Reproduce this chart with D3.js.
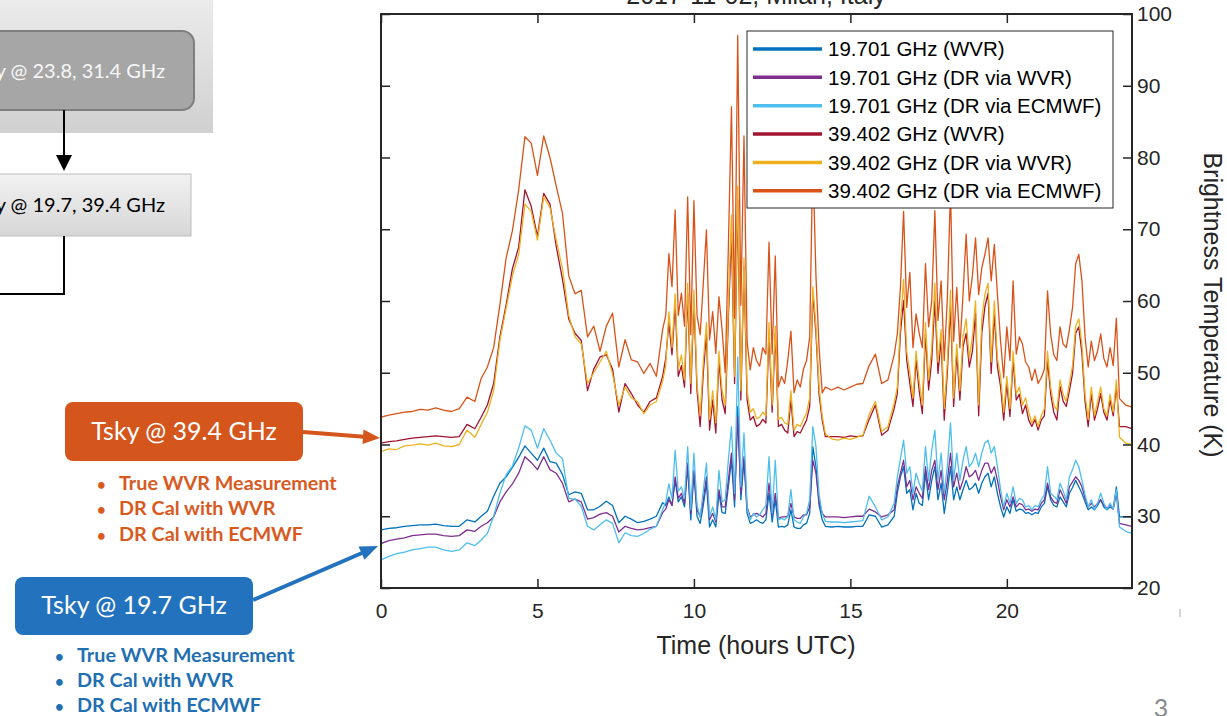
<!DOCTYPE html>
<html>
<head>
<meta charset="utf-8">
<title>Tsky 2017-11-02 Milan</title>
<script src="https://d3js.org/d3.v7.min.js"></script>
<style>
  body { margin: 0; background: #fff; overflow: hidden; }
  svg { display: block; }
</style>
</head>
<body>
<svg id="slide" width="1227" height="716"></svg>
<script>
// time axis, hours UTC (sampled closer where the traces get spiky)
const hours = [
  0,0.25,0.5,0.75,1,1.25,1.5,1.75,2,2.25,2.5,2.75,3,
  3.2,3.4,3.6,3.8,4,4.2,4.4,4.6,4.8,5,5.2,5.4,5.6,5.8,6,6.2,6.4,6.6,6.8,7,7.2,7.4,7.6,7.8,8,8.2,8.4,8.6,8.8,9,
  9.1,9.2,9.3,9.4,9.5,9.6,9.7,9.8,9.9,
  10,10.1,10.2,10.3,10.4,10.5,10.6,10.7,10.8,10.9,
  11,11.1,11.2,11.3,11.4,11.5,11.6,11.7,11.8,11.9,
  12,12.1,12.2,12.3,12.4,12.5,12.6,12.7,12.8,12.9,
  13,13.1,13.2,13.3,13.4,13.5,13.6,13.7,13.8,13.9,
  14,14.1,14.2,
  14.4,14.6,14.8,15,15.2,15.4,15.6,15.8,16,16.2,16.4,
  16.5,16.6,16.7,16.8,16.9,
  17,17.1,17.2,17.3,17.4,17.5,17.6,17.7,17.8,17.9,
  18,18.1,18.2,18.3,18.4,18.5,18.6,18.7,18.8,18.9,
  19,19.1,19.2,19.3,19.4,19.5,19.6,19.7,19.8,19.9,
  20,20.1,20.2,20.3,20.4,20.5,20.6,20.7,20.8,20.9,
  21,21.1,21.2,21.3,21.4,21.5,21.6,21.7,21.8,21.9,
  22,22.1,22.2,22.3,22.4,22.5,22.6,22.7,22.8,22.9,
  23,23.1,23.2,23.3,23.4,23.5,23.6,
  23.8,24
];

// brightness temperature (K), 19.701 GHz measured by the WVR
const tb19Wvr = [
  28.1,28.3,28.4,28.6,28.7,28.8,28.8,28.9,28.7,28.6,28.6,29.5,29.2,
  30.0,30.7,32.8,34.6,35.5,36.8,38.2,39.8,38.8,37.8,39.5,37.6,37.4,35.8,33.0,33.4,33.2,30.9,30.9,31.4,32.1,31.5,29.1,30.0,29.6,29.1,29.3,29.6,30.0,31.9,
  31.5,32.7,31.5,35.0,32.0,32.7,31.3,36.9,29.5,
  36.0,30.0,29.0,31.5,34.6,28.5,29.5,28.5,33.2,30.5,
  30.4,34.1,37.8,31.3,45.3,32.3,37.8,30.4,29.0,29.2,
  29.5,29.2,29.0,29.5,33.2,29.2,32.3,28.5,28.6,28.5,
  28.8,30.9,28.5,28.3,28.3,28.8,29.0,30.4,39.7,36.9,
  31.5,29.5,28.6,
  28.5,28.6,28.5,28.5,28.6,28.6,30.2,30.0,28.5,28.8,30.0,
  33.2,35.5,36.9,33.2,33.7,
  30.9,33.2,31.8,31.5,36.0,32.3,35.0,36.9,32.3,34.6,
  30.4,33.5,36.9,32.3,34.1,32.3,33.7,35.0,33.7,34.0,
  34.6,33.2,34.6,35.5,36.0,34.1,35.5,33.2,31.3,29.9,
  31.3,30.4,32.3,30.7,31.0,30.9,30.4,30.5,30.2,30.5,
  30.4,31.3,31.8,34.1,32.3,31.5,31.3,32.7,32.0,31.3,
  33.2,34.0,35.0,34.1,33.2,32.0,30.9,31.3,30.9,31.5,
  32.3,31.3,30.9,31.3,31.0,34.1,29.9,
  29.9,29.9
];

// 19.701 GHz, DR calibration driven by the WVR
const tb19DrWvr = [
  26.2,26.6,26.8,27.0,27.3,27.4,27.5,27.5,27.3,27.2,27.3,28.1,27.9,
  28.6,29.1,29.9,32.0,33.4,34.5,36.0,38.3,37.5,36.5,38.3,36.5,36.0,34.6,32.0,32.4,32.0,29.6,29.8,30.3,30.5,30.0,27.8,28.6,28.3,28.1,28.2,28.4,28.6,30.5,
  31.0,32.3,31.5,35.5,32.5,33.2,31.8,37.4,30.4,
  36.4,30.9,29.9,32.3,35.5,29.5,30.4,29.2,33.7,31.3,
  31.3,35.0,38.8,32.3,43.9,33.2,38.3,31.3,29.9,30.2,
  30.4,30.2,29.9,30.4,34.6,30.2,33.2,29.7,29.9,29.9,
  30.0,31.8,29.9,29.7,29.7,30.2,30.2,31.3,37.8,36.0,
  32.0,30.4,29.9,
  29.9,29.9,29.8,29.9,30.0,30.0,31.0,30.6,29.9,30.2,30.9,
  34.1,36.0,37.8,34.1,35.0,
  32.3,34.1,33.2,32.5,36.9,33.7,36.4,37.8,33.7,36.4,
  32.3,35.0,38.8,34.1,36.0,33.7,35.0,36.9,35.5,35.8,
  36.4,35.0,36.4,37.4,37.4,36.0,36.9,35.0,32.7,30.9,
  32.3,31.3,32.7,31.3,31.8,31.6,30.9,31.0,30.7,31.0,
  30.9,31.8,32.3,34.6,32.7,32.0,31.8,33.7,32.8,31.8,
  34.1,34.8,35.5,35.0,34.1,32.5,31.3,31.8,31.3,31.8,
  32.3,31.6,31.1,31.6,31.0,33.2,29.0,
  28.8,28.6
];

// 19.701 GHz, DR calibration driven by ECMWF
const tb19DrEcmwf = [
  23.9,24.4,24.8,25.0,25.3,25.5,25.7,25.7,25.3,25.1,25.3,26.3,25.9,
  26.7,27.6,30.0,33.2,35.8,37.0,39.5,42.6,42.0,39.5,42.2,40.6,38.8,38.0,32.5,32.4,31.4,28.6,28.1,28.8,29.5,29.0,26.3,27.7,27.3,27.2,27.6,28.2,28.6,30.9,
  32.0,34.5,32.5,39.2,33.5,34.1,32.5,39.7,30.9,
  38.8,31.5,29.9,33.5,37.4,29.9,31.3,29.5,36.4,32.0,
  32.3,37.8,42.5,33.2,52.2,34.1,41.6,31.3,29.5,30.4,
  29.9,30.2,30.9,31.5,38.3,30.4,37.8,29.5,29.7,29.5,
  30.0,33.7,29.5,29.2,29.0,29.9,30.4,32.3,42.5,39.7,
  33.0,30.4,29.3,
  29.2,29.2,29.1,29.2,29.3,29.4,32.8,31.3,29.5,29.9,31.8,
  35.5,38.0,40.6,36.0,36.9,
  33.2,36.0,34.6,33.5,39.7,35.0,39.2,42.0,35.0,38.8,
  33.2,37.0,43.0,35.0,38.8,35.0,37.8,39.7,36.9,37.5,
  38.8,36.9,38.8,40.2,40.6,38.8,39.7,36.9,33.7,31.3,
  33.2,31.8,34.1,31.8,32.5,32.3,31.3,31.5,30.9,31.5,
  31.3,32.3,33.0,36.9,33.2,32.8,32.3,34.6,33.5,32.3,
  35.5,36.5,37.8,36.9,35.0,33.0,31.3,32.3,30.9,31.8,
  33.2,31.8,30.9,31.8,31.0,33.7,28.5,
  27.9,27.6
];

// 39.402 GHz measured by the WVR
const tb39Wvr = [
  40.2,40.4,40.5,40.7,40.9,41.0,41.1,41.2,41.1,41.0,41.1,42.8,42.2,
  43.8,45.5,48.5,55.0,59.5,64.5,67.5,75.5,73.2,69.0,75.0,73.5,67.6,63.0,57.5,55.5,54.5,47.5,50.5,52.2,52.5,50.5,44.5,48.5,47.1,45.5,44.5,46.0,46.5,49.5,
  52.0,57.0,52.5,59.5,49.5,51.0,48.0,61.1,47.1,
  60.1,47.5,42.5,50.0,55.5,42.0,46.2,41.6,51.8,46.2,
  44.3,57.5,69.4,48.5,74.1,46.2,64.8,46.2,43.4,43.9,
  42.5,42.8,43.5,43.0,55.5,44.5,55.5,42.5,42.8,42.0,
  41.6,46.2,41.1,41.8,41.6,42.5,43.4,45.3,61.1,55.5,
  47.0,43.4,41.1,
  41.1,41.1,41.0,41.2,41.1,41.2,43.5,45.5,41.3,42.0,45.0,
  47.1,55.5,60.1,51.8,48.5,
  45.3,51.8,47.5,44.3,55.5,47.6,51.8,60.1,49.9,54.6,
  43.4,50.2,59.2,45.3,52.7,46.2,53.6,55.5,50.8,53.0,
  58.3,44.0,55.5,59.2,61.1,49.9,58.3,50.8,48.1,43.4,
  48.5,43.9,51.8,46.2,47.0,44.3,45.5,43.4,42.5,43.5,
  42.0,43.4,44.0,51.8,47.1,44.5,43.4,48.1,46.0,45.3,
  47.5,49.9,55.5,56.4,52.7,46.0,42.5,47.1,43.4,45.0,
  47.1,44.5,43.4,46.2,44.0,48.1,42.5,
  42.5,42.2
];

// 39.402 GHz, DR calibration driven by the WVR
const tb39DrWvr = [
  39.0,39.4,39.3,39.8,39.9,40.1,39.9,40.2,39.8,39.7,40.0,42.0,41.0,
  42.8,44.5,47.5,54.5,59.0,63.5,66.5,73.5,72.5,68.5,74.5,73.0,68.5,64.5,58.0,55.0,54.0,48.5,50.0,51.5,53.0,49.8,45.5,48.0,46.5,46.0,44.3,45.5,46.0,48.8,
  51.0,58.5,53.5,61.0,50.5,52.5,49.0,62.5,48.5,
  61.5,48.5,44.0,51.5,57.0,43.5,47.5,43.0,53.0,47.5,
  45.5,59.0,72.0,49.5,76.0,47.5,66.0,47.5,44.5,45.0,
  43.6,43.8,44.5,44.0,57.0,45.5,56.5,43.5,43.8,43.0,
  42.8,47.5,42.0,42.8,42.5,43.5,44.4,46.5,62.0,56.5,
  48.0,44.0,41.5,
  40.8,40.6,40.9,40.7,41.0,41.3,44.2,46.0,41.8,42.5,45.8,
  48.0,57.0,63.0,53.0,50.0,
  46.5,53.0,48.8,45.5,57.0,49.0,53.5,62.5,51.5,56.0,
  45.0,51.5,61.5,46.5,54.0,47.5,55.0,57.5,52.0,55.0,
  60.0,45.5,57.5,61.0,62.5,51.5,60.0,52.0,49.5,44.5,
  49.5,45.0,53.0,47.0,48.0,45.5,46.5,44.5,43.0,44.0,
  42.5,44.0,45.0,53.0,48.0,45.5,44.8,49.0,47.0,46.0,
  48.5,51.0,56.5,57.5,54.0,47.0,43.5,48.0,44.0,46.0,
  48.0,45.0,44.0,47.0,44.5,49.0,41.0,
  40.2,40.0
];

// 39.402 GHz, DR calibration driven by ECMWF
const tb39DrEcmwf = [
  43.8,44.1,44.3,44.5,44.6,44.9,44.8,45.1,44.8,44.6,45.0,46.6,46.0,
  49.2,50.8,53.5,59.5,66.0,69.8,75.5,82.9,82.0,77.5,83.0,80.0,76.0,72.2,63.5,61.0,61.5,55.0,56.5,53.0,56.5,58.3,50.8,54.6,51.8,51.5,49.9,51.3,49.5,56.0,
  58.0,66.6,62.0,72.7,58.0,61.1,56.5,74.5,55.3,
  74.0,58.0,55.3,62.5,69.9,54.6,58.5,52.7,60.6,56.0,
  50.0,67.3,87.1,57.6,97.0,59.4,83.0,54.3,50.4,53.5,
  51.7,50.9,53.5,52.6,68.2,52.6,66.3,48.0,49.5,48.5,
  51.7,55.8,47.2,49.0,48.0,50.5,51.7,55.0,80.0,63.5,
  53.5,47.2,48.0,
  47.6,48.0,47.6,48.0,48.4,48.5,51.0,52.6,48.5,49.0,52.5,
  55.4,61.9,72.5,59.1,64.0,
  53.5,58.2,55.5,53.5,65.2,56.4,60.0,72.6,57.3,62.8,
  51.7,60.5,75.5,54.4,61.9,53.5,60.9,69.3,60.0,63.5,
  68.8,60.9,64.6,66.5,68.8,62.8,67.9,60.9,54.4,49.3,
  56.4,51.7,62.8,52.6,55.0,54.0,51.5,50.8,48.9,50.5,
  48.5,49.3,50.5,61.4,55.4,52.5,51.7,56.4,54.0,53.5,
  56.0,59.1,65.2,66.5,62.8,55.0,50.8,54.4,51.7,53.0,
  55.4,52.0,50.8,53.5,51.0,57.6,46.4,
  45.5,45.2
];

const seriesNames = [
  "19.701 GHz (WVR)", "19.701 GHz (DR via WVR)", "19.701 GHz (DR via ECMWF)",
  "39.402 GHz (WVR)", "39.402 GHz (DR via WVR)", "39.402 GHz (DR via ECMWF)"
];
const seriesValues = [tb19Wvr, tb19DrWvr, tb19DrEcmwf, tb39Wvr, tb39DrWvr, tb39DrEcmwf];
const seriesColors = ["#0072BD", "#7E2F8E", "#4DBEEE", "#A2142F", "#EDB120", "#D95319"];

const xTicks = [0, 5, 10, 15, 20];
const yTicks = [20, 30, 40, 50, 60, 70, 80, 90, 100];

const orangeBullets = ["True WVR Measurement", "DR Cal with WVR", "DR Cal with ECMWF"];
const blueBullets = ["True WVR Measurement", "DR Cal with WVR", "DR Cal with ECMWF"];

const svg = d3.select("#slide");
const axisFont = "'Liberation Sans', Arial, Helvetica, sans-serif";
const slideFont = "Lato, 'Open Sans', sans-serif";
const ink = "#262626";

// ---------- left side of the slide: flow boxes ----------
const defs = svg.append("defs");
const g1 = defs.append("linearGradient").attr("id", "panelGrad").attr("x1", 0).attr("y1", 0).attr("x2", 0).attr("y2", 1);
g1.append("stop").attr("offset", "0%").attr("stop-color", "#ececec");
g1.append("stop").attr("offset", "100%").attr("stop-color", "#d0d0d0");
const g2 = defs.append("linearGradient").attr("id", "boxGrad").attr("x1", 0).attr("y1", 0).attr("x2", 0).attr("y2", 1);
g2.append("stop").attr("offset", "0%").attr("stop-color", "#f2f2f2");
g2.append("stop").attr("offset", "100%").attr("stop-color", "#d6d6d6");

svg.append("rect").attr("x", -5).attr("y", -5).attr("width", 218).attr("height", 138)
  .attr("fill", "url(#panelGrad)");
svg.append("rect").attr("x", -20).attr("y", 31).attr("width", 214).attr("height", 79).attr("rx", 12)
  .attr("fill", "#a6a6a6").attr("stroke", "#7f7f7f").attr("stroke-width", 2);
svg.append("text").attr("x", 165).attr("y", 78).attr("text-anchor", "end")
  .attr("font-family", slideFont).attr("font-size", 20).attr("fill", "#f7f7f7")
  .text("Tsky @ 23.8, 31.4 GHz");

svg.append("line").attr("x1", 64).attr("y1", 110).attr("x2", 64).attr("y2", 157)
  .attr("stroke", "#000").attr("stroke-width", 2);
svg.append("path").attr("d", "M56,155 L72,155 L64,171 Z").attr("fill", "#000");

svg.append("rect").attr("x", -20).attr("y", 174).attr("width", 211).attr("height", 62)
  .attr("fill", "url(#boxGrad)").attr("stroke", "#bdbdbd").attr("stroke-width", 1);
svg.append("text").attr("x", 165).attr("y", 212).attr("text-anchor", "end")
  .attr("font-family", slideFont).attr("font-size", 20).attr("fill", "#000")
  .text("Tsky @ 19.7, 39.4 GHz");
svg.append("path").attr("d", "M64,236 L64,294 L-5,294")
  .attr("fill", "none").attr("stroke", "#000").attr("stroke-width", 2);

// orange callout
const orange = "#d4561d", orangeText = "#d85a1f";
svg.append("rect").attr("x", 65).attr("y", 402).attr("width", 238).attr("height", 59).attr("rx", 8)
  .attr("fill", orange);
svg.append("text").attr("x", 184).attr("y", 440).attr("text-anchor", "middle")
  .attr("font-family", slideFont).attr("font-size", 25).attr("fill", "#fff")
  .text("Tsky @ 39.4 GHz");
svg.append("line").attr("x1", 303).attr("y1", 432).attr("x2", 364).attr("y2", 436.8)
  .attr("stroke", orange).attr("stroke-width", 4);
svg.append("path").attr("d", "M380,438 L362.5,444 L363.5,429.5 Z").attr("fill", orange);
orangeBullets.forEach((t, i) => {
  svg.append("text").attr("x", 97).attr("y", 490 + i * 25.4)
    .attr("font-family", slideFont).attr("font-size", 15).attr("font-weight", 700)
    .attr("fill", orangeText).text("\u2022");
  svg.append("text").attr("x", 119).attr("y", 490 + i * 25.4)
    .attr("font-family", slideFont).attr("font-size", 19.8).attr("font-weight", 700)
    .attr("fill", orangeText).text(t);
});

// blue callout
const blue = "#2372be", blueText = "#1f6fb2";
svg.append("rect").attr("x", 15).attr("y", 577).attr("width", 238).attr("height", 58).attr("rx", 8)
  .attr("fill", blue);
svg.append("text").attr("x", 134).attr("y", 614).attr("text-anchor", "middle")
  .attr("font-family", slideFont).attr("font-size", 25).attr("fill", "#fff")
  .text("Tsky @ 19.7 GHz");
svg.append("line").attr("x1", 253).attr("y1", 600).attr("x2", 362).attr("y2", 553)
  .attr("stroke", blue).attr("stroke-width", 4);
svg.append("path").attr("d", "M378,546 L364.5,559.8 L358.5,546.5 Z").attr("fill", blue);
blueBullets.forEach((t, i) => {
  svg.append("text").attr("x", 55).attr("y", 662 + i * 25)
    .attr("font-family", slideFont).attr("font-size", 15).attr("font-weight", 700)
    .attr("fill", blueText).text("\u2022");
  svg.append("text").attr("x", 77).attr("y", 662 + i * 25)
    .attr("font-family", slideFont).attr("font-size", 19.8).attr("font-weight", 700)
    .attr("fill", blueText).text(t);
});

// page number
svg.append("text").attr("x", 1161).attr("y", 717).attr("text-anchor", "middle")
  .attr("font-family", slideFont).attr("font-size", 25).attr("fill", "#8a8a8a").text("3");
svg.append("line").attr("x1", 1180).attr("y1", 609).attr("x2", 1180).attr("y2", 617)
  .attr("stroke", "#aaa").attr("stroke-width", 1);

// ---------- the chart ----------
const x = d3.scaleLinear().domain([0, 24]).range([381, 1132]);
const y = d3.scaleLinear().domain([20, 100]).range([588, 14]);

defs.append("clipPath").attr("id", "plotClip")
  .append("rect").attr("x", 381).attr("y", 14).attr("width", 751).attr("height", 574);

const line = d3.line().x((d, i) => x(hours[i])).y(d => y(d));

svg.append("g").attr("clip-path", "url(#plotClip)")
  .selectAll("path")
  .data(seriesValues)
  .join("path")
    .attr("d", line)
    .attr("fill", "none")
    .attr("stroke", (d, i) => seriesColors[i])
    .attr("stroke-width", 1.3)
    .attr("stroke-linejoin", "round");

function styleAxis(g) {
  g.select(".domain").remove();
  g.selectAll(".tick line").attr("stroke", ink).attr("stroke-width", 1.5);
  g.selectAll(".tick text").attr("fill", ink).attr("font-family", axisFont).attr("font-size", 21);
}

svg.append("g").attr("transform", "translate(0,588)")
  .call(d3.axisBottom(x).tickValues(xTicks).tickSizeInner(-9).tickSizeOuter(0).tickPadding(15))
  .call(styleAxis);
svg.append("g").attr("transform", "translate(0,14)")
  .call(d3.axisTop(x).tickValues(xTicks).tickSizeInner(-9).tickSizeOuter(0).tickFormat(""))
  .call(styleAxis);
svg.append("g").attr("transform", "translate(381,0)")
  .call(d3.axisLeft(y).tickValues(yTicks).tickSizeInner(-9).tickSizeOuter(0).tickFormat(""))
  .call(styleAxis);
svg.append("g").attr("transform", "translate(1132,0)")
  .call(d3.axisRight(y).tickValues(yTicks).tickSizeInner(-9).tickSizeOuter(0).tickPadding(5))
  .call(styleAxis);

svg.append("rect").attr("x", 381).attr("y", 14).attr("width", 751).attr("height", 574)
  .attr("fill", "none").attr("stroke", ink).attr("stroke-width", 2);

svg.append("text").attr("x", 756).attr("y", 654).attr("text-anchor", "middle")
  .attr("font-family", axisFont).attr("font-size", 25).attr("fill", ink)
  .text("Time (hours UTC)");
svg.append("text").attr("transform", "translate(1204,305) rotate(90)").attr("text-anchor", "middle")
  .attr("font-family", axisFont).attr("font-size", 25).attr("fill", ink)
  .text("Brightness Temperature (K)");
svg.append("text").attr("x", 756).attr("y", 4).attr("text-anchor", "middle")
  .attr("font-family", axisFont).attr("font-size", 25).attr("fill", ink)
  .text("2017-11-02, Milan, Italy");

// legend
const legend = svg.append("g");
legend.append("rect").attr("x", 747).attr("y", 31).attr("width", 366).attr("height", 177)
  .attr("fill", "#fff").attr("stroke", ink).attr("stroke-width", 1);
const rows = legend.selectAll("g.row").data(seriesNames).join("g")
  .attr("class", "row")
  .attr("transform", (d, i) => `translate(0,${49 + i * 28.35})`);
rows.append("line").attr("x1", 753).attr("x2", 822)
  .attr("stroke", (d, i) => seriesColors[i]).attr("stroke-width", 3.5);
rows.append("text").attr("x", 828).attr("dy", "0.36em")
  .attr("font-family", axisFont).attr("font-size", 20.5).attr("fill", "#000")
  .text(d => d);
</script>
</body>
</html>
